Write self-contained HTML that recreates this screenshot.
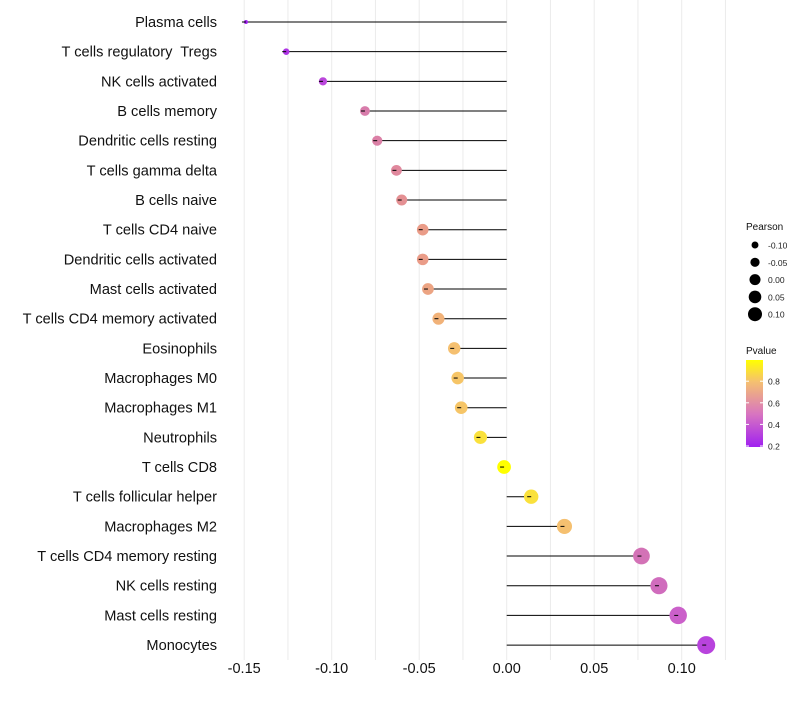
<!DOCTYPE html>
<html><head><meta charset="utf-8"><style>
body{margin:0;background:#fff;font-family:"Liberation Sans",sans-serif}
svg text{font-family:"Liberation Sans",sans-serif;white-space:pre}
</style></head><body>
<svg id="chart" width="800" height="700">
<defs><linearGradient id="pg" x1="0" y1="1" x2="0" y2="0">
<stop offset="0" stop-color="#A020F0"/><stop offset="0.38" stop-color="#D875C0"/><stop offset="0.75" stop-color="#F5C070"/><stop offset="1" stop-color="#FFFF00"/>
</linearGradient></defs>
<g id="grid"></g><g id="marks"></g><g id="ylabels"></g><g id="xlabels"></g>
<g id="legend"></g>
</svg>
<script>
const cells=["Plasma cells","T cells regulatory  Tregs","NK cells activated","B cells memory","Dendritic cells resting","T cells gamma delta","B cells naive","T cells CD4 naive","Dendritic cells activated","Mast cells activated","T cells CD4 memory activated","Eosinophils","Macrophages M0","Macrophages M1","Neutrophils","T cells CD8","T cells follicular helper","Macrophages M2","T cells CD4 memory resting","NK cells resting","Mast cells resting","Monocytes"];
const pearson=[-0.149,-0.126,-0.105,-0.081,-0.074,-0.063,-0.060,-0.048,-0.048,-0.045,-0.039,-0.030,-0.028,-0.026,-0.015,-0.0015,0.014,0.033,0.077,0.087,0.098,0.114];
const pvalue=[0.2,0.27,0.33,0.52,0.54,0.58,0.62,0.67,0.67,0.7,0.75,0.8,0.82,0.82,0.92,0.99,0.92,0.8,0.48,0.46,0.42,0.32];
const xTicks=[-0.15,-0.10,-0.05,0.00,0.05,0.10];
const sizeLegend=[-0.10,-0.05,0.00,0.05,0.10];
const colorTicks=[0.8,0.6,0.4,0.2];
const NS="http://www.w3.org/2000/svg";
const X=v=>506.7+v*1750;
const Y=i=>22+i*29.67;
const R=v=>Math.sqrt(4+(v+0.149)*292.8);
const RL=v=>Math.sqrt(12+(v+0.1)*185);
const stops=[[0.2,[160,32,240]],[0.4,[200,90,208]],[0.5,[214,120,176]],[0.65,[232,150,140]],[0.8,[245,192,112]],[0.92,[250,225,60]],[0.98,[255,255,0]]];
function col(p){p=Math.max(0.2,Math.min(0.98,p));for(let i=0;i<stops.length-1;i++){const[a,ca]=stops[i],[b,cb]=stops[i+1];if(p<=b){const t=(p-a)/(b-a);return`rgb(${ca.map((c,k)=>Math.round(c+(cb[k]-c)*t)).join(',')})`;}}return"#ff0";}
function mk(tag,at,parent){const e=document.createElementNS(NS,tag);for(const k in at)e.setAttribute(k,at[k]);parent.appendChild(e);return e;}
const grid=document.getElementById('grid'),marks=document.getElementById('marks'),yl=document.getElementById('ylabels'),xl=document.getElementById('xlabels'),lg=document.getElementById('legend');
for(let v=-0.15;v<=0.1251;v+=0.025){const l=mk('line',{x1:X(v),x2:X(v),y1:0,y2:660,stroke:'#ebebeb','stroke-width':1},grid);

}
xTicks.forEach(t=>{const e=mk('text',{x:X(t),y:673,'text-anchor':'middle','font-size':14.5,fill:'#111'},xl);e.textContent=t.toFixed(2);

});
cells.forEach((c,i)=>{const y=Y(i);
const t=mk('text',{x:217,y:y+5,'text-anchor':'end','font-size':14.6,fill:'#111'},yl);t.textContent=c;


const s=mk('line',{x1:X(0),x2:X(pearson[i]),y1:y,y2:y,stroke:'#000','stroke-width':1},marks);


const p=mk('circle',{cx:X(pearson[i]),cy:y,r:R(pearson[i]),fill:col(pvalue[i])},marks);


mk('line',{x1:X(pearson[i])-4,x2:X(pearson[i]),y1:y,y2:y,stroke:'#000','stroke-width':1},marks);});
let tt=mk('text',{x:746,y:230,'font-size':10,fill:'#111'},lg);tt.textContent='Pearson';


sizeLegend.forEach((v,i)=>{const y=245+i*17.3;mk('circle',{cx:755,cy:y,r:RL(v),fill:'#000'},lg);
const e=mk('text',{x:768,y:y+3.5,'font-size':8.5,fill:'#222'},lg);e.textContent=v.toFixed(2);

});
tt=mk('text',{x:746,y:354,'font-size':10,fill:'#111'},lg);tt.textContent='Pvalue';


const cb=mk('rect',{x:746,y:360,width:17,height:87,fill:'url(#pg)'},lg);


colorTicks.forEach(v=>{const y=446-(v-0.2)/0.2*21.6;mk('line',{x1:746,x2:749,y1:y,y2:y,stroke:'#fff'},lg);mk('line',{x1:760,x2:763,y1:y,y2:y,stroke:'#fff'},lg);
const e=mk('text',{x:768,y:y+3.5,'font-size':8.5,fill:'#222'},lg);e.textContent=v.toFixed(1);

});
</script>
</body></html>
